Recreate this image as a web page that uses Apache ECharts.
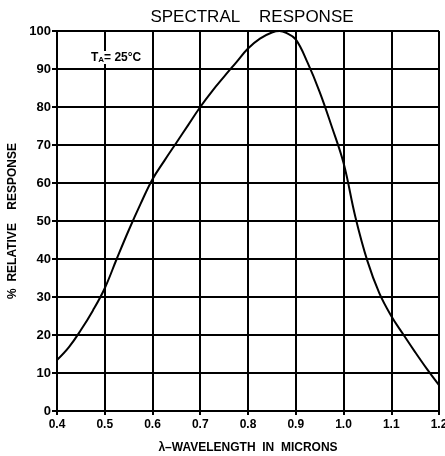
<!DOCTYPE html>
<html>
<head>
<meta charset="utf-8">
<script src="https://cdn.jsdelivr.net/npm/echarts@6/dist/echarts.min.js"></script>
<style>html,body{margin:0;padding:0;background:#fff;}#c{width:445px;height:456px;}</style>
</head>
<body>
<div id="c"></div>
<script>
var wavelength = [0.400, 0.425, 0.450, 0.475, 0.500, 0.525, 0.550, 0.575, 0.600, 0.625, 0.650, 0.675, 0.700, 0.725, 0.750, 0.775, 0.800, 0.825, 0.850, 0.866, 0.880, 0.900, 0.925, 0.950, 0.975, 1.000, 1.025, 1.050, 1.075, 1.100, 1.125, 1.150, 1.175, 1.200];
var response   = [13.4, 16.8, 21.3, 26.4, 32.3, 40.0, 47.5, 54.5, 61.0, 65.9, 70.6, 75.3, 80.0, 84.2, 88.0, 91.7, 95.4, 98.0, 99.6, 100.0, 99.5, 97.8, 91.6, 84.0, 75.0, 65.3, 51.0, 39.5, 31.0, 25.0, 20.2, 15.5, 11.0, 6.8];
var titleText = 'SPECTRAL    RESPONSE';
var xName = 'λ–WAVELENGTH  IN  MICRONS';
var yName = '%  RELATIVE    RESPONSE';

var chart = echarts.init(document.getElementById('c'), null, {renderer: 'canvas'});
var font = '"Liberation Sans", Arial, sans-serif';
var data = wavelength.map(function (x, i) { return [x, response[i]]; });
chart.setOption({
  animation: false,
  backgroundColor: '#fff',
  title: {
    text: titleText, left: 247, top: 4, textAlign: 'center',
    textStyle: {fontFamily: font, fontSize: 17, fontWeight: 'normal', color: '#000'}
  },
  grid: {left: 57, right: 6, top: 31, bottom: 45, containLabel: false, outerBoundsMode: 'none'},
  xAxis: {
    type: 'value', min: 0.4, max: 1.2, interval: 0.1,
    name: xName, nameLocation: 'middle', nameGap: 31,
    nameTextStyle: {fontFamily: font, fontSize: 12, fontWeight: 'bold', color: '#000'},
    axisLine: {lineStyle: {color: '#000', width: 2}},
    axisTick: {show: true, length: 4, lineStyle: {color: '#000', width: 2}},
    axisLabel: {fontFamily: font, fontSize: 12, fontWeight: 'bold', color: '#000', margin: 8,
      formatter: function (v) { return v.toFixed(1); }},
    splitLine: {show: true, lineStyle: {color: '#000', width: 2}}
  },
  yAxis: {
    type: 'value', min: 0, max: 100, interval: 10,
    name: yName, nameLocation: 'middle', nameGap: 35,
    nameTextStyle: {fontFamily: font, fontSize: 12, fontWeight: 'bold', color: '#000'},
    axisLine: {show: true, lineStyle: {color: '#000', width: 2}},
    axisTick: {show: true, length: 5, lineStyle: {color: '#000', width: 2}},
    axisLabel: {fontFamily: font, fontSize: 13, fontWeight: 'bold', color: '#000', margin: 6},
    splitLine: {show: true, lineStyle: {color: '#000', width: 2}}
  },
  graphic: [{
    type: 'text', left: 91, top: 51, z: 10,
    style: {
      text: '{t|T}{s|A}{t|= 25°C}',
      rich: {
        t: {fontFamily: font, fontSize: 12, fontWeight: 'bold', fill: '#000'},
        s: {fontFamily: font, fontSize: 8, fontWeight: 'bold', fill: '#000', padding: [5, 0, 0, 0]}
      },
      backgroundColor: '#fff'
    }
  }],
  series: [{
    type: 'line', data: data, smooth: 0.4, showSymbol: false,
    lineStyle: {color: '#000', width: 2}, z: 5
  }]
});
</script>
</body>
</html>
